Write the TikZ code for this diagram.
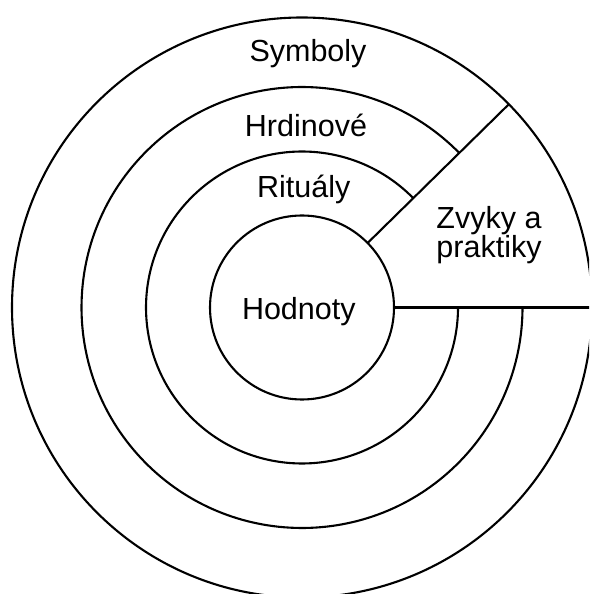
\documentclass[tikz,border=0pt]{standalone}
\usepackage{fontspec}
\setmainfont{Liberation Sans}
\begin{document}
\begin{tikzpicture}[x=1pt, y=1pt, line width=2.1pt,
  every node/.style={font=\fontsize{30.5}{27.7}\selectfont, inner sep=0pt}]
  \useasboundingbox (0,0) rectangle (589,594);
  \clip (0,0) rectangle (589,594);
  \coordinate (S) at (302,286.5);
  % vrstvy cibule
  \draw (S) circle (290pt);
  \draw (S) ++(44.5:220.5pt) arc[start angle=44.5, end angle=360, radius=220.5pt];
  \draw (S) ++(44.5:156pt) arc[start angle=44.5, end angle=360, radius=156pt];
  \draw (S) circle (92pt);
  % vysec praktik
  \draw (S) ++(44.5:92pt) -- ++(44.5:198pt);
  \draw (S) ++(92pt,0) -- ++(210pt,0);
  % popisky
  \node[anchor=base] (symboly) at (308,532.3) {Symboly};
  \node[anchor=base] (hrdinove) at (306,457.3) {Hrdinové};
  \node[anchor=base] (ritualy) at (303.7,396) {Rituály};
  \node[anchor=base] (hodnoty) at (298.8,274.7) {Hodnoty};
  \node[anchor=north, align=center] (zvyky) at (489,389) {Zvyky a\\praktiky};
\end{tikzpicture}
\end{document}
